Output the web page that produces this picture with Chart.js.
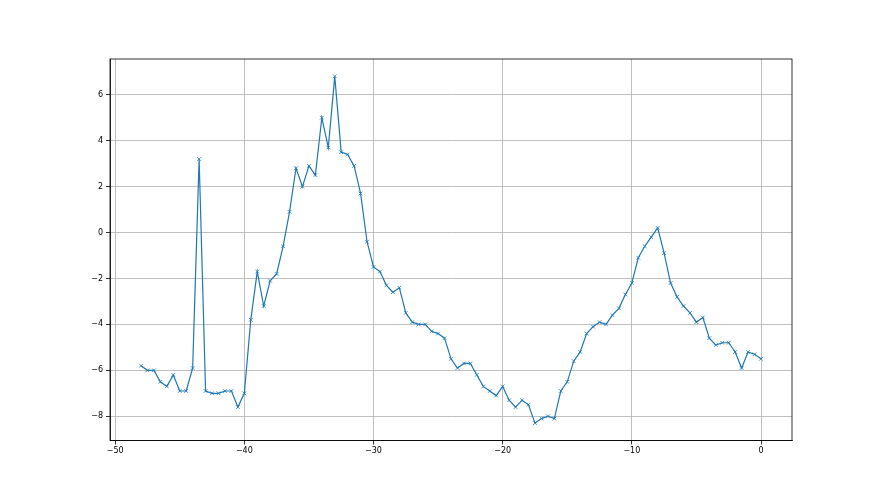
<!DOCTYPE html>
<html>
<head>
<meta charset="utf-8">
<script src="https://cdn.jsdelivr.net/npm/chart.js@4"></script>
<style>
  html, body { margin: 0; padding: 0; background: #fff; }
</style>
</head>
<body>
<canvas id="chart" width="880" height="495"></canvas>
<script>
// x positions (step 0.5 from -48 to 0)
const xValues = [
  -48, -47.5, -47, -46.5, -46, -45.5, -45, -44.5, -44, -43.5,
  -43, -42.5, -42, -41.5, -41, -40.5, -40, -39.5, -39, -38.5,
  -38, -37.5, -37, -36.5, -36, -35.5, -35, -34.5, -34, -33.5,
  -33, -32.5, -32, -31.5, -31, -30.5, -30, -29.5, -29, -28.5,
  -28, -27.5, -27, -26.5, -26, -25.5, -25, -24.5, -24, -23.5,
  -23, -22.5, -22, -21.5, -21, -20.5, -20, -19.5, -19, -18.5,
  -18, -17.5, -17, -16.5, -16, -15.5, -15, -14.5, -14, -13.5,
  -13, -12.5, -12, -11.5, -11, -10.5, -10, -9.5, -9, -8.5,
  -8, -7.5, -7, -6.5, -6, -5.5, -5, -4.5, -4, -3.5,
  -3, -2.5, -2, -1.5, -1, -0.5, 0
];

const yValues = [
  -5.8, -6.0, -6.0, -6.5, -6.7, -6.2, -6.9, -6.9, -5.9, 3.2,
  -6.9, -7.0, -7.0, -6.9, -6.9, -7.6, -7.0, -3.8, -1.7, -3.2,
  -2.1, -1.8, -0.6, 0.9, 2.8, 2.0, 2.9, 2.5, 5.0, 3.7,
  6.8, 3.5, 3.4, 2.9, 1.7, -0.4, -1.5, -1.7, -2.3, -2.6,
  -2.4, -3.5, -3.9, -4.0, -4.0, -4.3, -4.4, -4.6, -5.5, -5.9,
  -5.7, -5.7, -6.2, -6.7, -6.9, -7.1, -6.7, -7.3, -7.6, -7.3,
  -7.5, -8.3, -8.1, -8.0, -8.1, -6.9, -6.5, -5.6, -5.2, -4.4,
  -4.1, -3.9, -4.0, -3.6, -3.3, -2.7, -2.2, -1.1, -0.6, -0.2,
  0.2, -0.9, -2.2, -2.8, -3.2, -3.5, -3.9, -3.7, -4.6, -4.9,
  -4.8, -4.8, -5.2, -5.9, -5.2, -5.3, -5.5
];

const xTicks = [-50, -40, -30, -20, -10, 0];
const yTicks = [-8, -6, -4, -2, 0, 2, 4, 6];

// matplotlib-like 5% margins
const xMin = Math.min(...xValues), xMax = Math.max(...xValues);
const yMin = Math.min(...yValues), yMax = Math.max(...yValues);
const xPad = (xMax - xMin) * 0.05, yPad = (yMax - yMin) * 0.05;

const points = xValues.map((x, i) => ({ x: x, y: yValues[i] }));

const fmt = v => (v < 0 ? '\u2212' + Math.abs(v) : String(v));

// cadre complet autour de la zone de tracé
const framePlugin = {
  id: 'frame',
  afterDraw(chart) {
    const { ctx, chartArea: a } = chart;
    ctx.save();
    ctx.strokeStyle = '#000';
    ctx.lineWidth = 0.8;
    ctx.strokeRect(a.left, a.top, a.right - a.left, a.bottom - a.top);
    ctx.restore();
  }
};

new Chart(document.getElementById('chart'), {
  type: 'scatter',
  data: {
    datasets: [{
      data: points,
      showLine: true,
      borderColor: '#1f77b4',
      borderWidth: 1.2,
      pointStyle: 'crossRot',
      pointRadius: 2.6,
      pointBorderWidth: 0.8,
      pointBorderColor: '#1f77b4',
      pointBackgroundColor: '#1f77b4',
      pointHoverRadius: 2.6
    }]
  },
  options: {
    responsive: false,
    animation: false,
    devicePixelRatio: 1,
    layout: { padding: { top: 59, right: 88, left: 0, bottom: 0 } },
    plugins: { legend: { display: false }, tooltip: { enabled: false } },
    scales: {
      x: {
        type: 'linear',
        min: xMin - xPad,
        max: xMax + xPad,
        afterBuildTicks: s => { s.ticks = xTicks.map(v => ({ value: v })); },
        afterFit: s => { s.height = 54.5; },
        grid: { color: '#b0b0b0', lineWidth: 0.8, tickColor: '#000', tickLength: 4 },
        border: { color: '#000', width: 0.8 },
        ticks: {
          callback: v => fmt(v),
          color: '#000',
          font: { family: 'DejaVu Sans', size: 8 },
          padding: 2,
          maxRotation: 0
        }
      },
      y: {
        type: 'linear',
        min: yMin - yPad,
        max: yMax + yPad,
        afterBuildTicks: s => { s.ticks = yTicks.map(v => ({ value: v })); },
        afterFit: s => { s.width = 110; },
        grid: { color: '#b0b0b0', lineWidth: 0.8, tickColor: '#000', tickLength: 4 },
        border: { color: '#000', width: 0.8 },
        ticks: {
          callback: v => fmt(v),
          color: '#000',
          font: { family: 'DejaVu Sans', size: 8 },
          padding: 3
        }
      }
    }
  },
  plugins: [framePlugin]
});
</script>
</body>
</html>
